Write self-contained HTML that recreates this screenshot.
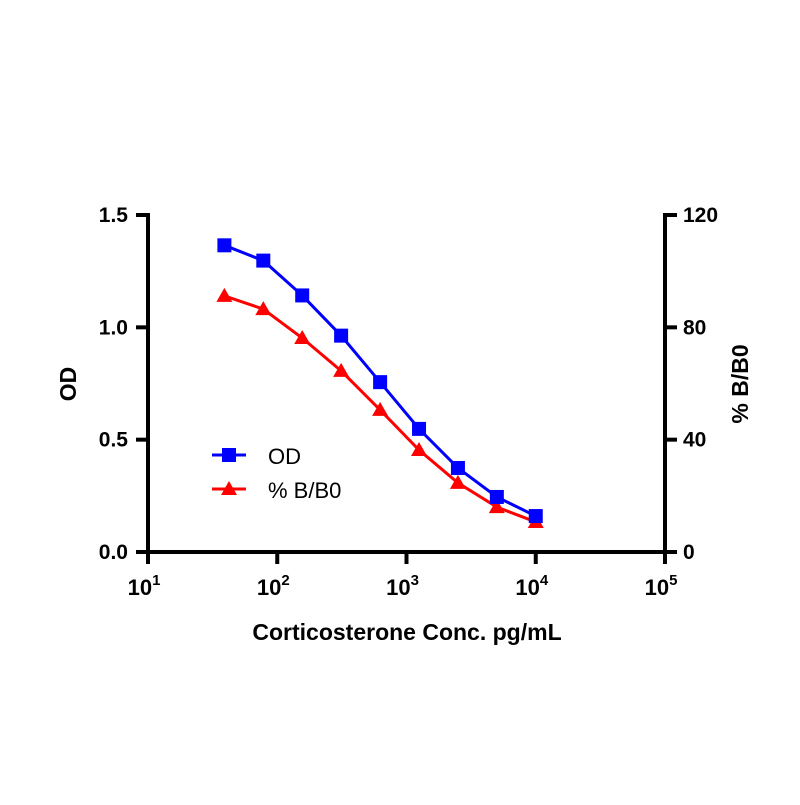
<!DOCTYPE html>
<html><head><meta charset="utf-8"><style>
body{margin:0;background:#fff;}
svg text{font-family:"Liberation Sans",Arial,sans-serif;}
</style></head><body>
<svg id="chart" width="800" height="800" viewBox="0 0 800 800">
<rect width="800" height="800" fill="#fff"/>
<g id="axes"></g>
<g id="series"></g>
<g id="legend">
  <line x1="212" y1="455" x2="246" y2="455" stroke="#0000ff" stroke-width="3"/>
  <rect x="222" y="448" width="14" height="14" fill="#0000ff"/>
  <text x="268" y="464" font-size="22" fill="#000">OD</text>
  <line x1="212" y1="489" x2="246" y2="489" stroke="#ff0000" stroke-width="3"/>
  <polygon points="229,481 237,495 221,495" fill="#ff0000"/>
  <text x="268" y="498" font-size="22" fill="#000">% B/B0</text>
</g>
<text x="407" y="640" font-size="23" font-weight="bold" text-anchor="middle">Corticosterone Conc. pg/mL</text>
<text transform="translate(76,384) rotate(-90)" font-size="23" font-weight="bold" text-anchor="middle">OD</text>
<text transform="translate(748,384) rotate(-90)" font-size="23" font-weight="bold" text-anchor="middle">% B/B0</text>
</svg>
<script>
const concentrations = [39, 78, 156, 312, 625, 1250, 2500, 5000, 10000];
const odValues = [1.365, 1.297, 1.142, 0.963, 0.756, 0.548, 0.374, 0.245, 0.16];
const bb0Values = [91.2, 86.5, 76.2, 64.5, 50.6, 36.3, 24.6, 16.0, 10.7];
const xTickExps = [1, 2, 3, 4, 5];
const leftTicks = [0.0, 0.5, 1.0, 1.5];
const leftTickLabels = ["0.0", "0.5", "1.0", "1.5"];
const rightTicks = [0, 40, 80, 120];

const NS = "http://www.w3.org/2000/svg";
const X0 = 148, X1 = 665, Y0 = 552, Y1 = 215;
function xs(v){ return X0 + (Math.log10(v) - 1) / 4 * (X1 - X0); }
function yl(v){ return Y0 - v / 1.5 * (Y0 - Y1); }
function yr(v){ return Y0 - v / 120 * (Y0 - Y1); }
function mk(tag, attrs, parent){ const e = document.createElementNS(NS, tag); for (const k in attrs) e.setAttribute(k, attrs[k]); parent.appendChild(e); return e; }

const axes = document.getElementById('axes');
let e;
e = mk('line', {x1:X0, y1:Y1-2, x2:X0, y2:Y0+2, stroke:'#000', 'stroke-width':4}, axes);


e = mk('line', {x1:X1, y1:Y1-2, x2:X1, y2:Y0+2, stroke:'#000', 'stroke-width':4}, axes);


e = mk('line', {x1:X0-2, y1:Y0, x2:X1+2, y2:Y0, stroke:'#000', 'stroke-width':4}, axes);



xTickExps.forEach(p => {
  const x = xs(Math.pow(10, p));
  const t = mk('line', {x1:x, y1:Y0, x2:x, y2:Y0+12, stroke:'#000', 'stroke-width':4}, axes);
  
  
  const tx = mk('text', {x:x-4, y:Y0+43, 'font-size':22, 'font-weight':'bold', 'text-anchor':'middle'}, axes);
  
  
  tx.textContent = '10';
  const sup = mk('tspan', {'font-size':15, dy:-10}, tx);
  sup.textContent = String(p);
});
leftTicks.forEach((v, i) => {
  const y = yl(v);
  const t = mk('line', {x1:X0-12, y1:y, x2:X0, y2:y, stroke:'#000', 'stroke-width':4}, axes);
  
  
  const tx = mk('text', {x:X0-20, y:y+7, 'font-size':21, 'font-weight':'bold', 'text-anchor':'end'}, axes);
  
  
  tx.textContent = leftTickLabels[i];
});
rightTicks.forEach(v => {
  const y = yr(v);
  const t = mk('line', {x1:X1, y1:y, x2:X1+12, y2:y, stroke:'#000', 'stroke-width':4}, axes);
  
  
  const tx = mk('text', {x:X1+18, y:y+7, 'font-size':21, 'font-weight':'bold', 'text-anchor':'start'}, axes);
  
  
  tx.textContent = String(v);
});

const series = document.getElementById('series');
const bbPts = concentrations.map((c, i) => xs(c) + ',' + yr(bb0Values[i])).join(' ');
e = mk('polyline', {points:bbPts, fill:'none', stroke:'#ff0000', 'stroke-width':3}, series);


concentrations.forEach((c, i) => {
  const x = xs(c), y = yr(bb0Values[i]);
  const m = mk('polygon', {points:`${x},${y-8} ${x+8},${y+6} ${x-8},${y+6}`, fill:'#ff0000'}, series);
  
  
});
const odPts = concentrations.map((c, i) => xs(c) + ',' + yl(odValues[i])).join(' ');
e = mk('polyline', {points:odPts, fill:'none', stroke:'#0000ff', 'stroke-width':3}, series);


concentrations.forEach((c, i) => {
  const x = xs(c), y = yl(odValues[i]);
  const m = mk('rect', {x:x-7, y:y-7, width:14, height:14, fill:'#0000ff'}, series);
  
  
});
</script>
</body></html>
